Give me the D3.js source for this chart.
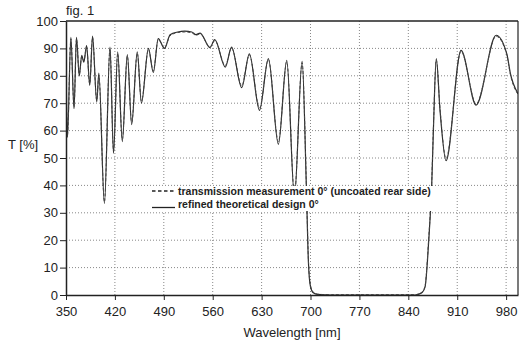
<!DOCTYPE html>
<html>
<head>
<meta charset="utf-8">
<script src="https://cdn.jsdelivr.net/npm/d3@7"></script>
<style>
  body{margin:0;background:#fff;}
  #canvas{width:520px;height:342px;}
  text{font-family:"Liberation Sans",Arial,sans-serif;fill:#222;}
  .axis path,.axis line{stroke:#222;}
  .axis text{font-size:13px;}
  .grid line{stroke:#888;stroke-dasharray:1,2;stroke-width:1;}
</style>
</head>
<body>
<div id="canvas" class="canvas"></div>
<script>
// wavelength ticks / T ticks
var xTicks = [350,420,490,560,630,700,770,840,910,980];
var yTicks = [0,10,20,30,40,50,60,70,80,90,100];

// refined theoretical design 0°
var designNm = [350,352,357,361.5,365,369,372.5,375.5,379.5,384,388,394,397,405,413,418,424,430.6,437.8,444,452,458,468,475,482,491,499,510,520,530,536,542,556,563,578,587,601.5,612.5,627,639.7,654,666,677,688,694,697,700,704,710,730,790,850,855,860,864,869,873.6,876,880,885.5,894,915.5,937,965.7,981,986,997];
var designT  = [86,57.5,94,68,94,80,87.5,85,91,76.5,94.5,70.5,81,33.4,90.5,51.7,88.7,56,87.7,62.2,88.7,70,90,81.2,93.6,90,95,96,96.3,96,95,95.6,90.3,93.2,83.2,90.5,75.7,88,67.4,86.3,55,85.6,36,85.3,40,12,3,0.8,0.2,0,0,0,0.3,1,3,19,41,61,86.3,67,49,89.3,69.3,94.8,88,81,73.5];

// transmission measurement 0° (uncoated rear side)
var measNm = [350,352,357,361.5,365,369,372.5,375.5,379.5,384,388,394,397,405,413,418,424,430.6,437.8,444,452,458,468,475,482,491,499,510,520,530,536,542,556,563,578,587,601.5,612.5,627,639.7,654,666,677,688,694,697,700,704,710,730,790,850,855,860,864,869,873.6,876,880,885.5,894,915.5,937,965.7,981,986,997];
var measT  = [85,58,93.5,68.5,93.5,80.5,87,85.5,90.5,77,94,71,80,34,90,52.5,88.2,56.8,87.2,63,88.2,70.8,89.6,81.8,93.2,90.3,94.6,95.8,96,95.7,94.8,95.3,90.6,92.8,83.8,90.1,76.4,87.6,68.2,85.9,56,85.1,37,84.8,41,13,3.5,1,0.3,0.1,0.1,0.1,0.4,1.2,3.4,20,42,62,85.8,67.6,49.8,88.9,69.8,94.4,87.6,80.6,73.2];

var m = {t:21,r:2,b:47,l:66};
var outerWidth = 520, outerHeight = 342;
var w = outerWidth - m.l - m.r,
    h = outerHeight - m.t - m.b;

var svg = d3.select('.canvas')
    .append('svg')
    .attr('width',outerWidth)
    .attr('height',outerHeight);

var plot = svg.append('g')
    .attr('transform','translate(' + m.l + ',' + m.t + ')');

var scaleX = d3.scaleLinear().domain([350,997]).range([0,w]);
var scaleY = d3.scaleLinear().domain([0,100]).range([h,0]);

//grid
var grid = plot.append('g').attr('class','grid');
grid.selectAll('.gx')
    .data(xTicks.slice(1))
    .enter().append('line')
    .attr('x1',function(d){return scaleX(d)}).attr('x2',function(d){return scaleX(d)})
    .attr('y1',0).attr('y2',h);
grid.selectAll('.gy')
    .data(yTicks.slice(1,-1))
    .enter().append('line')
    .attr('y1',function(d){return scaleY(d)}).attr('y2',function(d){return scaleY(d)})
    .attr('x1',0).attr('x2',w);

//curves
plot.append('clipPath').attr('id','clip')
    .append('rect').attr('width',w).attr('height',h+1);

var line = d3.line()
    .x(function(d){return scaleX(d[0])})
    .y(function(d){return scaleY(d[1])})
    .curve(d3.curveMonotoneX);

var meas = d3.zip(measNm,measT),
    design = d3.zip(designNm,designT);

plot.append('path')
    .datum(design)
    .attr('clip-path','url(#clip)')
    .attr('d',line)
    .attr('fill','none')
    .attr('stroke','#2b2b2b')
    .attr('stroke-width',1.2);

plot.append('path')
    .datum(meas)
    .attr('clip-path','url(#clip)')
    .attr('d',line)
    .attr('fill','none')
    .attr('stroke','#444')
    .attr('stroke-width',1)
    .attr('stroke-dasharray','3,2');

//frame top/right
plot.append('line').attr('x1',0).attr('x2',w).attr('y1',0).attr('y2',0)
    .attr('stroke','#222').attr('stroke-width',1.5);
plot.append('line').attr('x1',w).attr('x2',w).attr('y1',0).attr('y2',h)
    .attr('stroke','#222').attr('stroke-width',1.2);

//axes
var axisX = d3.axisBottom().scale(scaleX).tickValues(xTicks).tickSize(5).tickPadding(7).tickSizeOuter(0);
var axisY = d3.axisLeft().scale(scaleY).tickValues(yTicks).tickSize(6).tickPadding(2).tickSizeOuter(0);
plot.append('g').attr('class','axis axis-x')
    .attr('transform','translate(0,'+h+')')
    .call(axisX);
plot.append('g').attr('class','axis axis-y').call(axisY);
plot.selectAll('.axis .domain').attr('stroke-width',1.5);

//labels
svg.append('text').attr('x',66).attr('y',15).style('font-size','13px').text('fig. 1');
svg.append('text').attr('x',8).attr('y',149).style('font-size','13px').text('T [%]');
svg.append('text').attr('x',m.l + w/2).attr('y',337).attr('text-anchor','middle')
    .style('font-size','13px').text('Wavelength [nm]');

//legend
var lg = svg.append('g');
lg.append('rect').attr('x',150).attr('y',186).attr('width',286).attr('height',25).attr('fill','#fff');
lg.append('line').attr('x1',152).attr('x2',175).attr('y1',191).attr('y2',191)
    .attr('stroke','#222').attr('stroke-width',1.3).attr('stroke-dasharray','3.5,2.5');
lg.append('line').attr('x1',152).attr('x2',175).attr('y1',207.5).attr('y2',207.5)
    .attr('stroke','#222').attr('stroke-width',1.3);
lg.append('text').attr('x',178).attr('y',194.5).style('font-size','10.5px').style('font-weight','bold')
    .text('transmission measurement 0° (uncoated rear side)');
lg.append('text').attr('x',178).attr('y',207.5).style('font-size','10.5px').style('font-weight','bold')
    .text('refined theoretical design 0°');
</script>
</body>
</html>
